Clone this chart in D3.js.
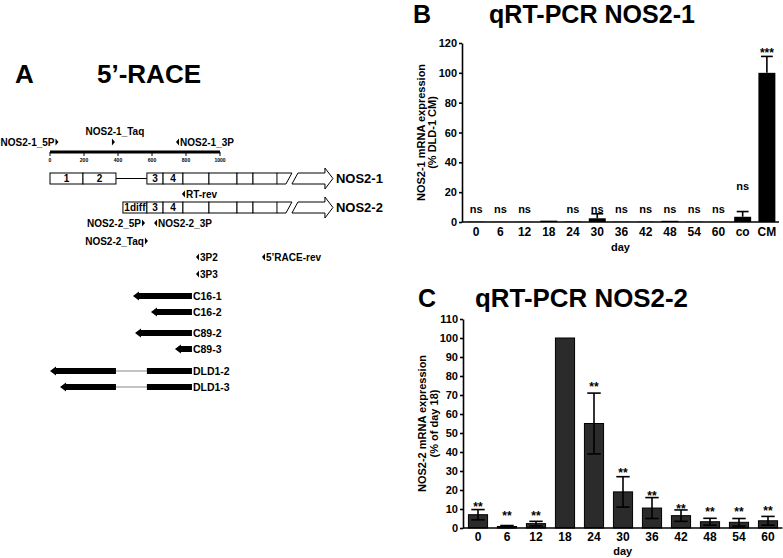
<!DOCTYPE html>
<html><head><meta charset="utf-8">
<script src="https://cdn.jsdelivr.net/npm/d3@7"></script>
<style>
body{margin:0;background:#fff}
svg{display:block}
text{font-family:Arial,"Liberation Sans",Helvetica,sans-serif;font-weight:bold;fill:#000}
</style>
</head><body>
<svg id="fig" width="783" height="558"></svg>
<script>
// ================= DATA =================
// Panel A: gene structure (bp coordinates)
const scaleBarTicks = [0, 200, 400, 600, 800, 1000];
const exon1Start = [0, 194, 570, 665, 782, 935, 1100, 1194];
const exon1End   = [194, 388, 665, 782, 935, 1100, 1194, 1335];
const exon1Label = ["1", "2", "3", "4", "", "", "", ""];
const intron1    = [388, 570];
const exon2Start = [429, 570, 665, 782, 935, 1100, 1194];
const exon2End   = [570, 665, 782, 935, 1100, 1194, 1335];
const exon2Label = ["1diff", "3", "4", "", "", "", ""];
const transcriptNames = ["NOS2-1", "NOS2-2"];

const primerNames = ["NOS2-1_5P", "NOS2-1_Taq", "NOS2-1_3P", "RT-rev", "NOS2-2_5P", "NOS2-2_3P", "NOS2-2_Taq", "3P2", "3P3", "5\u2019RACE-rev"];
const primerBp    = [50, 382, 741, 776, 559, 612, 576, 859, 859, 1247];
const primerDir   = ["r", "r", "l", "l", "r", "l", "r", "l", "l", "l"];

const cloneNames = ["C16-1", "C16-2", "C89-2", "C89-3", "DLD1-2", "DLD1-3"];
const cloneStart = [488, 594, 500, 735, 0, 59];
const cloneEnd   = [835, 835, 835, 835, 835, 835];
const cloneGapStart = [null, null, null, null, 388, 388];
const cloneGapEnd   = [null, null, null, null, 570, 570];

// Panel B: qRT-PCR NOS2-1
const catsB  = ["0", "6", "12", "18", "24", "30", "36", "42", "48", "54", "60", "co", "CM"];
const meanB  = [0.2, 0.1, 0.1, 0.9, 0.3, 2.5, 0.2, 0.2, 0.8, 0.2, 0.1, 3.5, 100];
const sdB    = [0, 0, 0, 0, 0, 3, 0, 0, 0, 0, 0, 3.5, 11];
const sigB   = ["ns", "ns", "ns", "", "ns", "ns", "ns", "ns", "ns", "ns", "ns", "ns", "***"];
const sigBAt = [8, 8, 8, null, 8, 8, 8, 8, 8, 8, 8, 23.5, 115];
const ticksB = [0, 20, 40, 60, 80, 100, 120];

// Panel C: qRT-PCR NOS2-2
const catsC  = ["0", "6", "12", "18", "24", "30", "36", "42", "48", "54", "60"];
const meanC  = [7, 0.8, 2.3, 100, 55, 19, 10.5, 6.5, 3.3, 3, 3.8];
const sdC    = [2.7, 0.5, 1.2, 0, 16, 8, 5.5, 3, 1.8, 2, 2.3];
const sigC   = ["**", "**", "**", "", "**", "**", "**", "**", "**", "**", "**"];
const sigCAt = [12.6, 7.7, 7.7, null, 75.8, 30.3, 18.5, 11.4, 9.8, 9.8, 10.2];
const ticksC = [0, 10, 20, 30, 40, 50, 60, 70, 80, 90, 100, 110];

// ================= DRAW =================
const svg = d3.select("#fig");
svg.append("rect").attr("width", 783).attr("height", 558).attr("fill", "#fff");

// ---------- Panel A ----------
const A = svg.append("g");
A.append("text").attr("x", 15).attr("y", 83).attr("font-size", 26).text("A");
A.append("text").attr("x", 97).attr("y", 83).attr("font-size", 26).text("5\u2019-RACE");

const xA = d3.scaleLinear().domain([0, 1000]).range([50, 220]);

// scale bar
const sbY = 152;
A.append("line").attr("x1", xA(0)).attr("x2", xA(1000)).attr("y1", sbY).attr("y2", sbY)
  .attr("stroke", "#000").attr("stroke-width", 3);
A.selectAll(".sbt").data(scaleBarTicks).join("line")
  .attr("x1", d => xA(d)).attr("x2", d => xA(d)).attr("y1", sbY).attr("y2", sbY + 4)
  .attr("stroke", "#000").attr("stroke-width", 1);
A.selectAll(".sbl").data(scaleBarTicks).join("text")
  .attr("x", d => xA(d)).attr("y", sbY + 10).attr("text-anchor", "middle")
  .attr("font-size", 5).text(d => d);

// transcripts
function drawTranscript(starts, ends, labels, yTop, name, intron) {
  const h = 11, yMid = yTop + h / 2;
  const g = A.append("g");
  if (intron) {
    g.append("line").attr("x1", xA(intron[0])).attr("x2", xA(intron[1]))
      .attr("y1", yMid).attr("y2", yMid).attr("stroke", "#000").attr("stroke-width", 1);
  }
  starts.forEach((s, i) => {
    g.append("rect").attr("x", xA(s)).attr("y", yTop)
      .attr("width", xA(ends[i]) - xA(s)).attr("height", h)
      .attr("fill", "#fff").attr("stroke", "#000").attr("stroke-width", 1);
    if (labels[i]) {
      g.append("text").attr("x", (xA(s) + xA(ends[i])) / 2).attr("y", yMid + 3.6)
        .attr("text-anchor", "middle").attr("font-size", 10).text(labels[i]);
    }
  });
  const xe = xA(ends[ends.length - 1]);
  const yb = yTop + h;
  // broken continuation
  g.append("path").attr("d",
    `M${xe},${yTop} L${xe + 15},${yTop} M${xe},${yb} L${xe + 9},${yb} L${xe + 15},${yTop}`)
    .attr("fill", "none").attr("stroke", "#000").attr("stroke-width", 1);
  g.append("path").attr("d",
    `M${xe + 15},${yb} L${xe + 48},${yb} L${xe + 48},${yb + 5} L${xe + 56},${yMid} ` +
    `L${xe + 48},${yTop - 5} L${xe + 48},${yTop} L${xe + 21},${yTop} Z`)
    .attr("fill", "#fff").attr("stroke", "#000").attr("stroke-width", 1);
  g.append("text").attr("x", xe + 59).attr("y", yMid + 4.6).attr("font-size", 13).text(name);
}
drawTranscript(exon1Start, exon1End, exon1Label, 173, transcriptNames[0], intron1);
drawTranscript(exon2Start, exon2End, exon2Label, 202, transcriptNames[1], null);

// primers (layout: row y and label side)
const primerY    = [142, 142, 142, 194, 223, 223, 241, 257, 274, 257];
const primerSide = ["left", "top", "right", "right", "left", "right", "left", "right", "right", "right"];
primerNames.forEach((n, i) => {
  const tip = xA(primerBp[i]), y = primerY[i];
  const d = primerDir[i] === "r"
    ? `M${tip - 3},${y - 3.5} L${tip},${y} L${tip - 3},${y + 3.5} Z`
    : `M${tip + 3},${y - 3.5} L${tip},${y} L${tip + 3},${y + 3.5} Z`;
  A.append("path").attr("d", d).attr("fill", "#000");
  const t = A.append("text").attr("font-size", 10).text(n);
  if (primerSide[i] === "left") t.attr("x", tip - 4).attr("y", y + 3.6).attr("text-anchor", "end");
  else if (primerSide[i] === "right") t.attr("x", tip + 4).attr("y", y + 3.6);
  else t.attr("x", tip).attr("y", y - 7).attr("text-anchor", "middle");
});

// RACE clones
const cloneY = [296, 312, 333, 349, 371, 387];
cloneNames.forEach((n, i) => {
  const y = cloneY[i], xs = xA(cloneStart[i]), xe = xA(cloneEnd[i]);
  const hb = 3, hh = 4.6, hl = 6;
  if (cloneGapStart[i] != null) {
    const g1 = xA(cloneGapStart[i]), g2 = xA(cloneGapEnd[i]);
    A.append("path").attr("d",
      `M${xs},${y} L${xs + hl},${y - hh} L${xs + hl},${y - hb} L${g1},${y - hb} L${g1},${y + hb} L${xs + hl},${y + hb} L${xs + hl},${y + hh} Z`)
      .attr("fill", "#000");
    A.append("line").attr("x1", g1).attr("x2", g2).attr("y1", y).attr("y2", y)
      .attr("stroke", "#888").attr("stroke-width", 1);
    A.append("rect").attr("x", g2).attr("y", y - hb).attr("width", xe - g2).attr("height", 2 * hb).attr("fill", "#000");
  } else {
    A.append("path").attr("d",
      `M${xs},${y} L${xs + hl},${y - hh} L${xs + hl},${y - hb} L${xe},${y - hb} L${xe},${y + hb} L${xs + hl},${y + hb} L${xs + hl},${y + hh} Z`)
      .attr("fill", "#000");
  }
  A.append("text").attr("x", xe + 1).attr("y", y + 3.8).attr("font-size", 10.5).text(n);
});

// ---------- Bar chart helper ----------
function barChart(opt) {
  const g = svg.append("g");
  const y = d3.scaleLinear().domain(opt.yDomain).range([opt.y0, opt.y1]);
  const x = d3.scaleBand().domain(opt.cats).range([opt.xr0, opt.xr1])
    .paddingInner(opt.padIn).paddingOuter(opt.padOut);
  const bw = x.bandwidth();
  // bars
  g.selectAll(".bar").data(opt.cats).join("rect")
    .attr("x", d => x(d)).attr("width", bw)
    .attr("y", (d, i) => y(opt.mean[i])).attr("height", (d, i) => y(0) - y(opt.mean[i]))
    .attr("fill", opt.fill).attr("stroke", opt.stroke).attr("stroke-width", opt.stroke === "none" ? 0 : 1);
  // error bars
  const cw = bw * 0.7;
  opt.cats.forEach((c, i) => {
    const s = opt.sd[i]; if (!s) return;
    const cx = x(c) + bw / 2, m = opt.mean[i];
    const lo = opt.both ? Math.max(0, m - s) : m;
    g.append("line").attr("x1", cx).attr("x2", cx).attr("y1", y(lo)).attr("y2", y(m + s))
      .attr("stroke", "#000").attr("stroke-width", 1.6);
    g.append("line").attr("x1", cx - cw / 2).attr("x2", cx + cw / 2).attr("y1", y(m + s)).attr("y2", y(m + s))
      .attr("stroke", "#000").attr("stroke-width", 1.6);
    if (opt.both) {
      g.append("line").attr("x1", cx - cw / 2).attr("x2", cx + cw / 2).attr("y1", y(lo)).attr("y2", y(lo))
        .attr("stroke", "#000").attr("stroke-width", 1.6);
    }
  });
  // significance labels
  opt.cats.forEach((c, i) => {
    if (!opt.sig[i]) return;
    const isStar = opt.sig[i].includes("*");
    const fs = isStar ? 12 : 11;
    const off = isStar ? 6.8 : 2.9;
    g.append("text").attr("x", x(c) + bw / 2).attr("y", y(opt.sigAt[i]) + off)
      .attr("text-anchor", "middle").attr("font-size", fs).text(opt.sig[i]);
  });
  // y axis
  const ya = g.append("g").attr("transform", `translate(${opt.axX},0)`)
    .call(d3.axisLeft(y).tickValues(opt.ticks).tickSize(3).tickSizeOuter(0).tickPadding(2));
  ya.select(".domain").attr("stroke-width", 1.6);
  ya.selectAll(".tick line").attr("stroke-width", 1.6);
  ya.selectAll(".tick text").attr("font-size", 11).attr("font-family", null);
  // x axis
  g.append("line").attr("x1", opt.axX).attr("x2", opt.xr1).attr("y1", y(0)).attr("y2", y(0))
    .attr("stroke", "#000").attr("stroke-width", 1.6);
  const xa = g.append("g").attr("transform", `translate(0,${y(0)})`)
    .call(d3.axisBottom(x).tickSize(0).tickPadding(opt.xPad));
  xa.select(".domain").remove();
  xa.selectAll(".tick text").attr("font-size", 12).attr("font-family", null);
  g.append("text").attr("x", (opt.axX + opt.xr1) / 2).attr("y", opt.dayY)
    .attr("text-anchor", "middle").attr("font-size", 11).text("day");
  // y title
  const yc = (opt.y0 + opt.y1) / 2;
  opt.ytitle.forEach((t, k) => {
    g.append("text").attr("transform", `translate(${opt.ytX[k]},${yc}) rotate(-90)`)
      .attr("text-anchor", "middle").attr("font-size", 11).text(t);
  });
  // panel letter & title
  g.append("text").attr("x", opt.letterX).attr("y", opt.titleY).attr("font-size", 25).text(opt.letter);
  g.append("text").attr("x", opt.titleX).attr("y", opt.titleY).attr("font-size", 25)
    .attr("textLength", opt.titleW).attr("lengthAdjust", "spacingAndGlyphs").text(opt.title);
}

barChart({
  cats: catsB, mean: meanB, sd: sdB, sig: sigB, sigAt: sigBAt, ticks: ticksB,
  yDomain: [0, 120], y0: 222, y1: 43, xr0: 464, xr1: 779, padIn: 0.3, padOut: 0.15,
  axX: 462, fill: "#000", stroke: "none", both: false, xPad: 5, dayY: 251,
  ytitle: ["NOS2-1 mRNA expression", "(% DLD-1 CM)"], ytX: [425, 436],
  letter: "B", letterX: 413, title: "qRT-PCR NOS2-1", titleX: 489, titleW: 206, titleY: 23
});

barChart({
  cats: catsC, mean: meanC, sd: sdC, sig: sigC, sigAt: sigCAt, ticks: ticksC,
  yDomain: [0, 110], y0: 528, y1: 319, xr0: 463.5, xr1: 782.5, padIn: 0.34, padOut: 0.17,
  axX: 463, fill: "#2b2b2b", stroke: "#000", both: true, xPad: 4, dayY: 555,
  ytitle: ["NOS2-2 mRNA expression", "(% of day 18)"], ytX: [426, 438],
  letter: "C", letterX: 418, title: "qRT-PCR NOS2-2", titleX: 475, titleW: 213, titleY: 307
});
</script>
</body></html>
